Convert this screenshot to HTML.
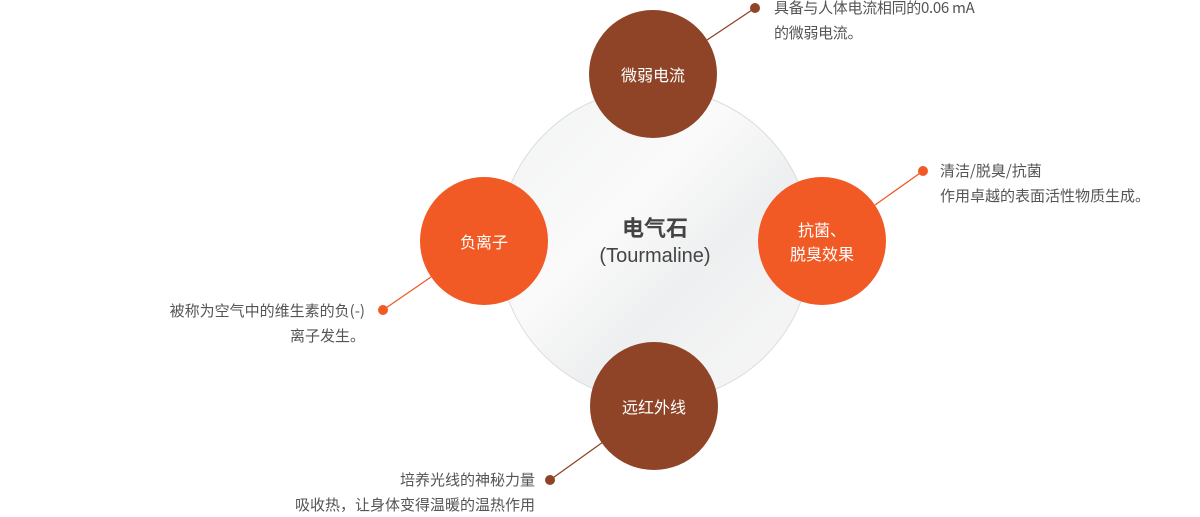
<!DOCTYPE html>
<html><head><meta charset="utf-8"><style>
body{margin:0;width:1200px;height:515px;background:#fff;position:relative;overflow:hidden;font-family:"Liberation Sans","Noto Sans CJK SC",sans-serif}
.c{position:absolute;border-radius:50%;color:#fff;display:flex;align-items:center;justify-content:center;text-align:center;font-size:16px;line-height:24px;font-family:"Noto Sans CJK SC",sans-serif}
.t{position:absolute;font-size:15px;color:#555;line-height:25px;white-space:nowrap;font-family:"Noto Sans CJK SC",sans-serif}
</style></head><body>
<div style="position:absolute;left:498px;top:88px;width:314px;height:314px;border-radius:50%;border:1px solid #ddd;box-sizing:border-box;background:linear-gradient(135deg,#f2f3f4,#fafafa 40%,#eeeff0 60%,#f8f8f8)"></div>
<svg width="1200" height="515" style="position:absolute;left:0;top:0">
<line x1="707" y1="40" x2="755" y2="8" stroke="#8f4428" stroke-width="1.3"/>
<circle cx="755" cy="8" r="5" fill="#8f4428"/>
<line x1="875" y1="205" x2="923" y2="171" stroke="#f15a24" stroke-width="1.3"/>
<circle cx="923" cy="171" r="5" fill="#f15a24"/>
<line x1="431" y1="277" x2="383" y2="310" stroke="#f15a24" stroke-width="1.3"/>
<circle cx="383" cy="310" r="5" fill="#f15a24"/>
<line x1="603" y1="442" x2="550" y2="480" stroke="#8f4428" stroke-width="1.3"/>
<circle cx="550" cy="480" r="5" fill="#8f4428"/>
</svg>
<div style="position:absolute;left:555px;top:212px;width:200px;text-align:center;color:#444"><div style="font-size:22px;font-weight:bold;line-height:30px;font-family:'Noto Sans CJK SC',sans-serif">电气石</div><div style="font-size:20px;line-height:28px">(Tourmaline)</div></div>
<div class="c" style="left:589px;top:10px;width:128px;height:128px;background:#8f4428">微弱电流</div>
<div class="c" style="left:420px;top:177px;width:128px;height:128px;background:#f15a24">负离子</div>
<div class="c" style="left:758px;top:177px;width:128px;height:128px;background:#f15a24">抗菌、<br>脱臭效果</div>
<div class="c" style="left:590px;top:342px;width:128px;height:128px;background:#8f4428">远红外线</div>
<div class="t" style="left:774px;top:-5px;letter-spacing:-0.3px">具备与人体电流相同的0.06 mA<br>的微弱电流。</div>
<div class="t" style="left:940px;top:158px">清洁/脱臭/抗菌<br>作用卓越的表面活性物质生成。</div>
<div class="t" style="right:835px;top:298px;text-align:right">被称为空气中的维生素的负(-)<br>离子发生。</div>
<div class="t" style="right:665px;top:467px;text-align:right">培养光线的神秘力量<br>吸收热，让身体变得温暖的温热作用</div>
</body></html>
